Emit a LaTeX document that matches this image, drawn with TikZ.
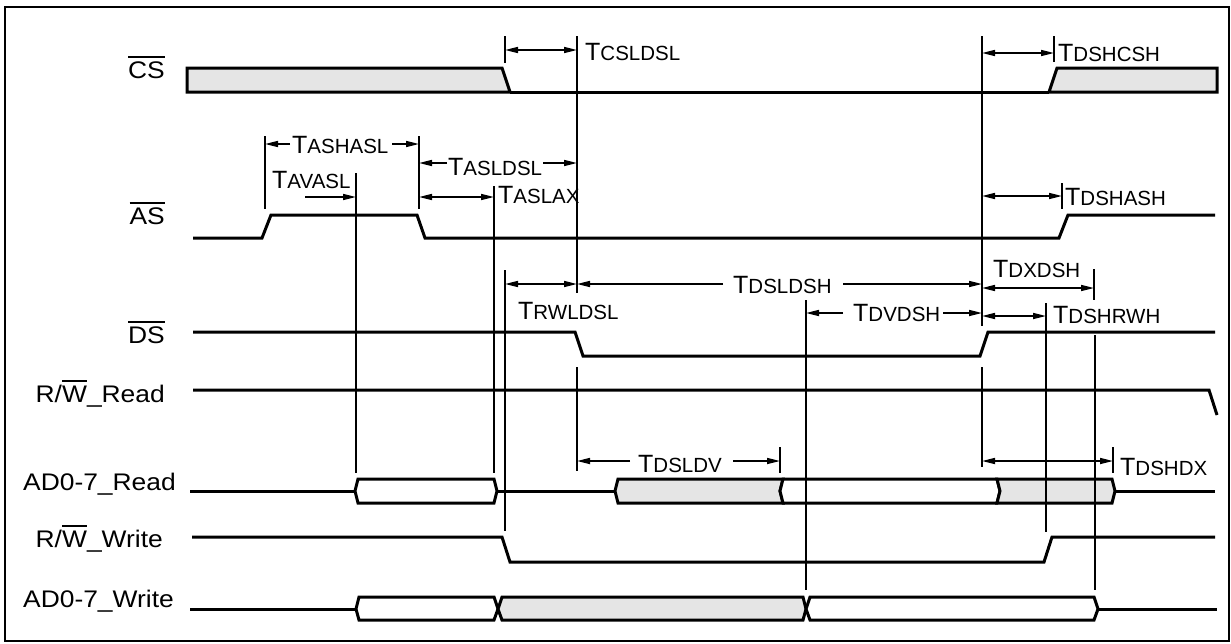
\documentclass[tikz,border=0pt]{standalone}
\usepackage{fontspec}
\setmainfont{Liberation Sans}
\newfontfamily\sigfont[FakeStretch=1.1]{Liberation Sans}
\usetikzlibrary{arrows.meta}
\definecolor{busgray}{RGB}{229,229,229}
\newcommand\ovl[1]{\vbox{\hrule height 1.5pt\kern 3.5pt\hbox{#1}}}
\newcommand\tlab[1]{{\fontsize{25}{25}\selectfont T}{\fontsize{20.5}{21}\selectfont #1}}
\newcommand\slab{\sigfont\fontsize{24}{28}\selectfont}
\begin{document}
\begin{tikzpicture}[x=1pt,y=-1pt,
 sig/.style={line width=3pt, line join=miter},
 mk/.style={line width=2pt},
 arr/.style={line width=1.6pt, -{Triangle[length=13pt,width=6pt]}},
 darr/.style={line width=1.6pt, {Triangle[length=13pt,width=6pt]}-{Triangle[length=13pt,width=6pt]}},
 sl/.style={inner sep=0pt, anchor=base east, font=\slab},
 tl/.style={inner sep=0pt, anchor=base west},
 busw/.style={sig, fill=white},
 busg/.style={sig, fill=busgray}]
\useasboundingbox (0,0) rectangle (1231,643);
\draw[line width=2pt] (5,7) rectangle (1229,641);

% signal labels
\node[sl] (lcs) at (165,78) {\ovl{CS}};
\node[sl] (las) at (165,224) {\ovl{AS}};
\node[sl] (lds) at (165,343) {\ovl{DS}};
\node[sl] (lrwr) at (165,402) {R/\ovl{W}\_Read};
\node[sl] (ladr) at (176,490) {AD0-7\_Read};
\node[sl] (lrww) at (163,547) {R/\ovl{W}\_Write};
\node[sl] (ladw) at (174,607) {AD0-7\_Write};

% CS
\draw[busg] (187,68) -- (502,68) -- (510,92) -- (187,92) -- cycle;
\draw[busg] (1049,92) -- (1057,68) -- (1217,68) -- (1217,92) -- cycle;
\draw[sig] (510,92) -- (1049,92);
% AS
\draw[sig] (193,238) -- (262,238) -- (271,215) -- (417,215) -- (425,238) -- (1059,238) -- (1068,215) -- (1215,215);
% DS
\draw[sig] (193,332) -- (575,332) -- (583,356) -- (980,356) -- (988,332) -- (1215,332);
% R/W Read
\draw[sig] (193,390) -- (1209,390) -- (1217,415);
% AD0-7 Read
\draw[sig] (190,491) -- (355,491);
\draw[busw] (355,491) -- (358,479) -- (494,479) -- (497,491) -- (494,503) -- (358,503) -- cycle;
\draw[sig] (497,491) -- (615,491);
\draw[busg] (615,491) -- (618,479) -- (783,479) -- (780,491) -- (783,503) -- (618,503) -- cycle;
\draw[busw] (780,491) -- (783,479) -- (997,479) -- (1000,491) -- (997,503) -- (783,503) -- cycle;
\draw[busg] (997,479) -- (1112,479) -- (1115,491) -- (1112,503) -- (997,503) -- (1000,491) -- cycle;
\draw[sig] (1115,491) -- (1215,491);
% R/W Write
\draw[sig] (192,537) -- (502,537) -- (510,562) -- (1044,562) -- (1052,537) -- (1215,537);
% AD0-7 Write
\draw[sig] (190,609) -- (356,609);
\draw[busw] (356,609) -- (359,597) -- (494,597) -- (498,609) -- (494,620) -- (359,620) -- cycle;
\draw[busg] (498,609) -- (502,597) -- (803,597) -- (806,609) -- (803,620) -- (502,620) -- cycle;
\draw[busw] (806,609) -- (810,597) -- (1094,597) -- (1098,609) -- (1094,620) -- (810,620) -- cycle;
\draw[sig] (1098,609) -- (1217,609);

% marker lines
\draw[mk] (265,136) -- (265,209);
\draw[mk] (419,136) -- (419,209);
\draw[mk] (356,173) -- (356,473);
\draw[mk] (494,186) -- (494,473);
\draw[mk] (577,36) -- (577,293);
\draw[mk] (577,367) -- (577,471);
\draw[mk] (505,36) -- (505,63);
\draw[mk] (505,270) -- (505,531);
\draw[mk] (806,300) -- (806,590);
\draw[mk] (982,36) -- (982,326);
\draw[mk] (982,367) -- (982,467);
\draw[mk] (1054,36) -- (1054,62);
\draw[mk] (1062,183) -- (1062,209);
\draw[mk] (1094,269) -- (1094,300);
\draw[mk] (1095,335) -- (1095,590);
\draw[mk] (1046,303) -- (1046,532);
\draw[mk] (1113,447) -- (1113,473);
\draw[mk] (780,447) -- (780,473);

% timing arrows and labels
\draw[darr] (505,50) -- (577,50);
\node[tl] (tcsldsl) at (585,60) {\tlab{CSLDSL}};
\draw[darr] (982,53) -- (1054,53);
\node[tl] (tdshcsh) at (1058,61) {\tlab{DSHCSH}};

\node[tl] (tashasl) at (292,153) {\tlab{ASHASL}};
\draw[arr] (290,144) -- (265,144);
\draw[arr] (392,144) -- (419,144);

\node[tl] (tavasl) at (272,188) {\tlab{AVASL}};
\draw[arr] (305,197) -- (356,197);

\node[tl] (tasldsl) at (448,175) {\tlab{ASLDSL}};
\draw[arr] (447,163) -- (419,163);
\draw[arr] (543,163) -- (577,163);

\draw[darr] (419,197) -- (494,197);
\node[tl] (taslax) at (498,203) {\tlab{ASLAX}};

\draw[darr] (982,196) -- (1062,196);
\node[tl] (tdshash) at (1065,205) {\tlab{DSHASH}};

\draw[darr] (505,284) -- (577,284);
\node[tl] (trwldsl) at (518,319) {\tlab{RWLDSL}};

\node[tl] (tdsldsh) at (733,293) {\tlab{DSLDSH}};
\draw[arr] (723,284) -- (577,284);
\draw[arr] (843,284) -- (982,284);

\node[tl] (tdvdsh) at (853,321) {\tlab{DVDSH}};
\draw[arr] (843,313) -- (806,313);
\draw[arr] (943,313) -- (982,313);

\node[tl] (tdxdsh) at (993,277) {\tlab{DXDSH}};
\draw[darr] (982,288) -- (1094,288);

\draw[darr] (982,316) -- (1046,316);
\node[tl] (tdshrwh) at (1053,323) {\tlab{DSHRWH}};

\node[tl] (tdsldv) at (638,472) {\tlab{DSLDV}};
\draw[arr] (630,461) -- (577,461);
\draw[arr] (733,461) -- (780,461);

\draw[darr] (982,461) -- (1113,461);
\node[tl] (tdshdx) at (1120,475) {\tlab{DSHDX}};
\end{tikzpicture}
\end{document}
